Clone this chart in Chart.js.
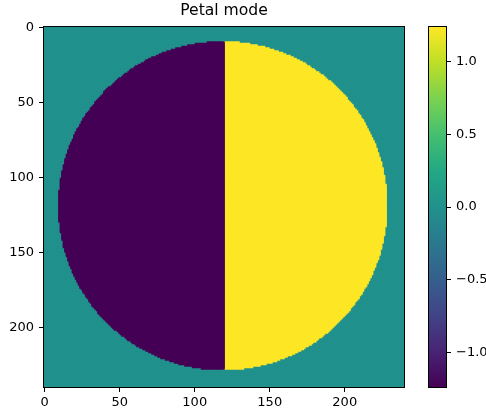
<!DOCTYPE html>
<html>
<head>
<meta charset="utf-8">
<script src="https://cdn.jsdelivr.net/npm/chart.js@4/dist/chart.umd.min.js"></script>
<style>
  html, body { margin: 0; padding: 0; background: #fff; }
  #wrap { position: relative; width: 486px; height: 413px; }
  canvas { position: absolute; left: 0; top: 0; }
</style>
</head>
<body>
<div id="wrap">
  <canvas id="main" width="486" height="413"></canvas>
  <canvas id="cbar" width="486" height="413"></canvas>
</div>
<script>
// image is 240 x 240 pixels, pixel i centred at i (imshow style)
const imageSize = 240
const circleCenter = [118.7, 118.7]
const circleRadius = 109.2
const splitX = 119.5
const leftValue = -1.235
const outsideValue = 0
const rightValue = 1.235
const colorMin = -1.235
const colorMax = 1.235
const xTicks = [0, 50, 100, 150, 200]
const yTicks = [0, 50, 100, 150, 200]
const colorbarTicks = [-1.0, -0.5, 0.0, 0.5, 1.0]

// viridis
const viridis = ['#440154', '#482475', '#414487', '#355f8d', '#2a788e', '#21918c',
    '#22a884', '#44bf70', '#7ad151', '#bddf26', '#fde725']
const hexToRgb = h => [1, 3, 5].map(i => parseInt(h.slice(i, i + 2), 16))
const colorFor = v => {
    const t = Math.min(1, Math.max(0, (v - colorMin) / (colorMax - colorMin))) * (viridis.length - 1)
    const i = Math.min(viridis.length - 2, Math.floor(t))
    const a = hexToRgb(viridis[i]), b = hexToRgb(viridis[i + 1])
    const f = t - i
    return `rgb(${a.map((c, k) => Math.round(c + (b[k] - c) * f)).join(',')})`
}

// one row of the image = one floating bar per colour run
const backgroundRows = []
const leftRows = []
const rightRows = []
for (let j = 0; j < imageSize; j++) {
    backgroundRows.push({y: j, x: [-0.5, imageSize - 0.5]})
    const dy = j - circleCenter[1]
    if (Math.abs(dy) >= circleRadius) continue
    const h = Math.sqrt(circleRadius * circleRadius - dy * dy)
    const iMin = Math.ceil(circleCenter[0] - h)
    const iMax = Math.floor(circleCenter[0] + h)
    if (iMin < splitX) leftRows.push({y: j, x: [iMin - 0.5, splitX]})
    if (iMax > splitX) rightRows.push({y: j, x: [splitX, iMax + 0.5]})
}

Chart.defaults.color = '#000'
Chart.defaults.font.family = 'DejaVu Sans'
Chart.defaults.font.size = 13
Chart.defaults.animation = false
Chart.defaults.events = []

const frame = {
    id: 'frame',
    afterDatasetsDraw(chart) {
        const {left, top, width, height} = chart.chartArea
        const ctx = chart.ctx
        ctx.save()
        ctx.strokeStyle = '#000'
        ctx.lineWidth = 1
        ctx.strokeRect(left - 0.5, top - 0.5, width + 1, height + 1)
        ctx.restore()
    }
}

const tickGrid = {display: true, offset: false, drawOnChartArea: false, drawTicks: true, tickLength: 5, color: '#000', lineWidth: 1}

// rows overlap a little so no seams show between them
const rowSet = (data, value, order) => ({
    data,
    backgroundColor: colorFor(value),
    borderWidth: 0,
    grouped: false,
    barPercentage: 1,
    categoryPercentage: 1,
    inflateAmount: 0.75,
    order
})

new Chart(document.getElementById('main'), {
    type: 'bar',
    data: {
        datasets: [
            rowSet(leftRows, leftValue, 0),
            rowSet(rightRows, rightValue, 0),
            rowSet(backgroundRows, outsideValue, 1)
        ]
    },
    options: {
        responsive: false,
        indexAxis: 'y',
        layout: {padding: {left: 0, right: 82, top: 0, bottom: 0}},
        plugins: {
            legend: {display: false},
            tooltip: {enabled: false},
            title: {
                display: true,
                text: 'Petal mode',
                fullSize: false,
                font: {family: 'DejaVu Sans', size: 15.6, weight: 'normal', lineHeight: 1.2},
                padding: {top: 2, bottom: 6.3},
                color: '#000'
            }
        },
        scales: {
            x: {
                type: 'linear',
                min: -0.5,
                max: imageSize - 0.5,
                offset: false,
                afterBuildTicks: s => { s.ticks = xTicks.map(v => ({value: v})) },
                afterFit: s => { s.height = 26 },
                grid: tickGrid,
                border: {display: false},
                ticks: {padding: 3, maxRotation: 0, autoSkip: false}
            },
            y: {
                type: 'linear',
                reverse: true,
                min: -0.5,
                max: imageSize - 0.5,
                offset: false,
                afterBuildTicks: s => { s.ticks = yTicks.map(v => ({value: v})) },
                afterFit: s => { s.width = 44 },
                grid: tickGrid,
                border: {display: false},
                ticks: {padding: 5, autoSkip: false}
            }
        }
    },
    plugins: [frame]
})

// colorbar
new Chart(document.getElementById('cbar'), {
    type: 'bar',
    data: {
        labels: [''],
        datasets: [{
            data: [[colorMin, colorMax]],
            borderWidth: 0,
            barPercentage: 1,
            categoryPercentage: 1,
            backgroundColor: ctx => {
                const area = ctx.chart.chartArea
                if (!area) return viridis[5]
                const g = ctx.chart.ctx.createLinearGradient(0, area.bottom, 0, area.top)
                viridis.forEach((c, i) => g.addColorStop(i / (viridis.length - 1), c))
                return g
            }
        }]
    },
    options: {
        responsive: false,
        layout: {padding: {left: 429, right: 0, top: 27, bottom: 26}},
        plugins: {legend: {display: false}, tooltip: {enabled: false}},
        scales: {
            x: {display: false},
            y: {
                position: 'right',
                min: colorMin,
                max: colorMax,
                afterBuildTicks: s => { s.ticks = colorbarTicks.map(v => ({value: v})) },
                afterFit: s => { s.width = 40 },
                grid: tickGrid,
                border: {display: false},
                ticks: {
                    padding: 5,
                    autoSkip: false,
                    callback: v => (v < 0 ? '\u2212' : '') + Math.abs(v).toFixed(1)
                }
            }
        }
    },
    plugins: [frame]
})
</script>
</body>
</html>
